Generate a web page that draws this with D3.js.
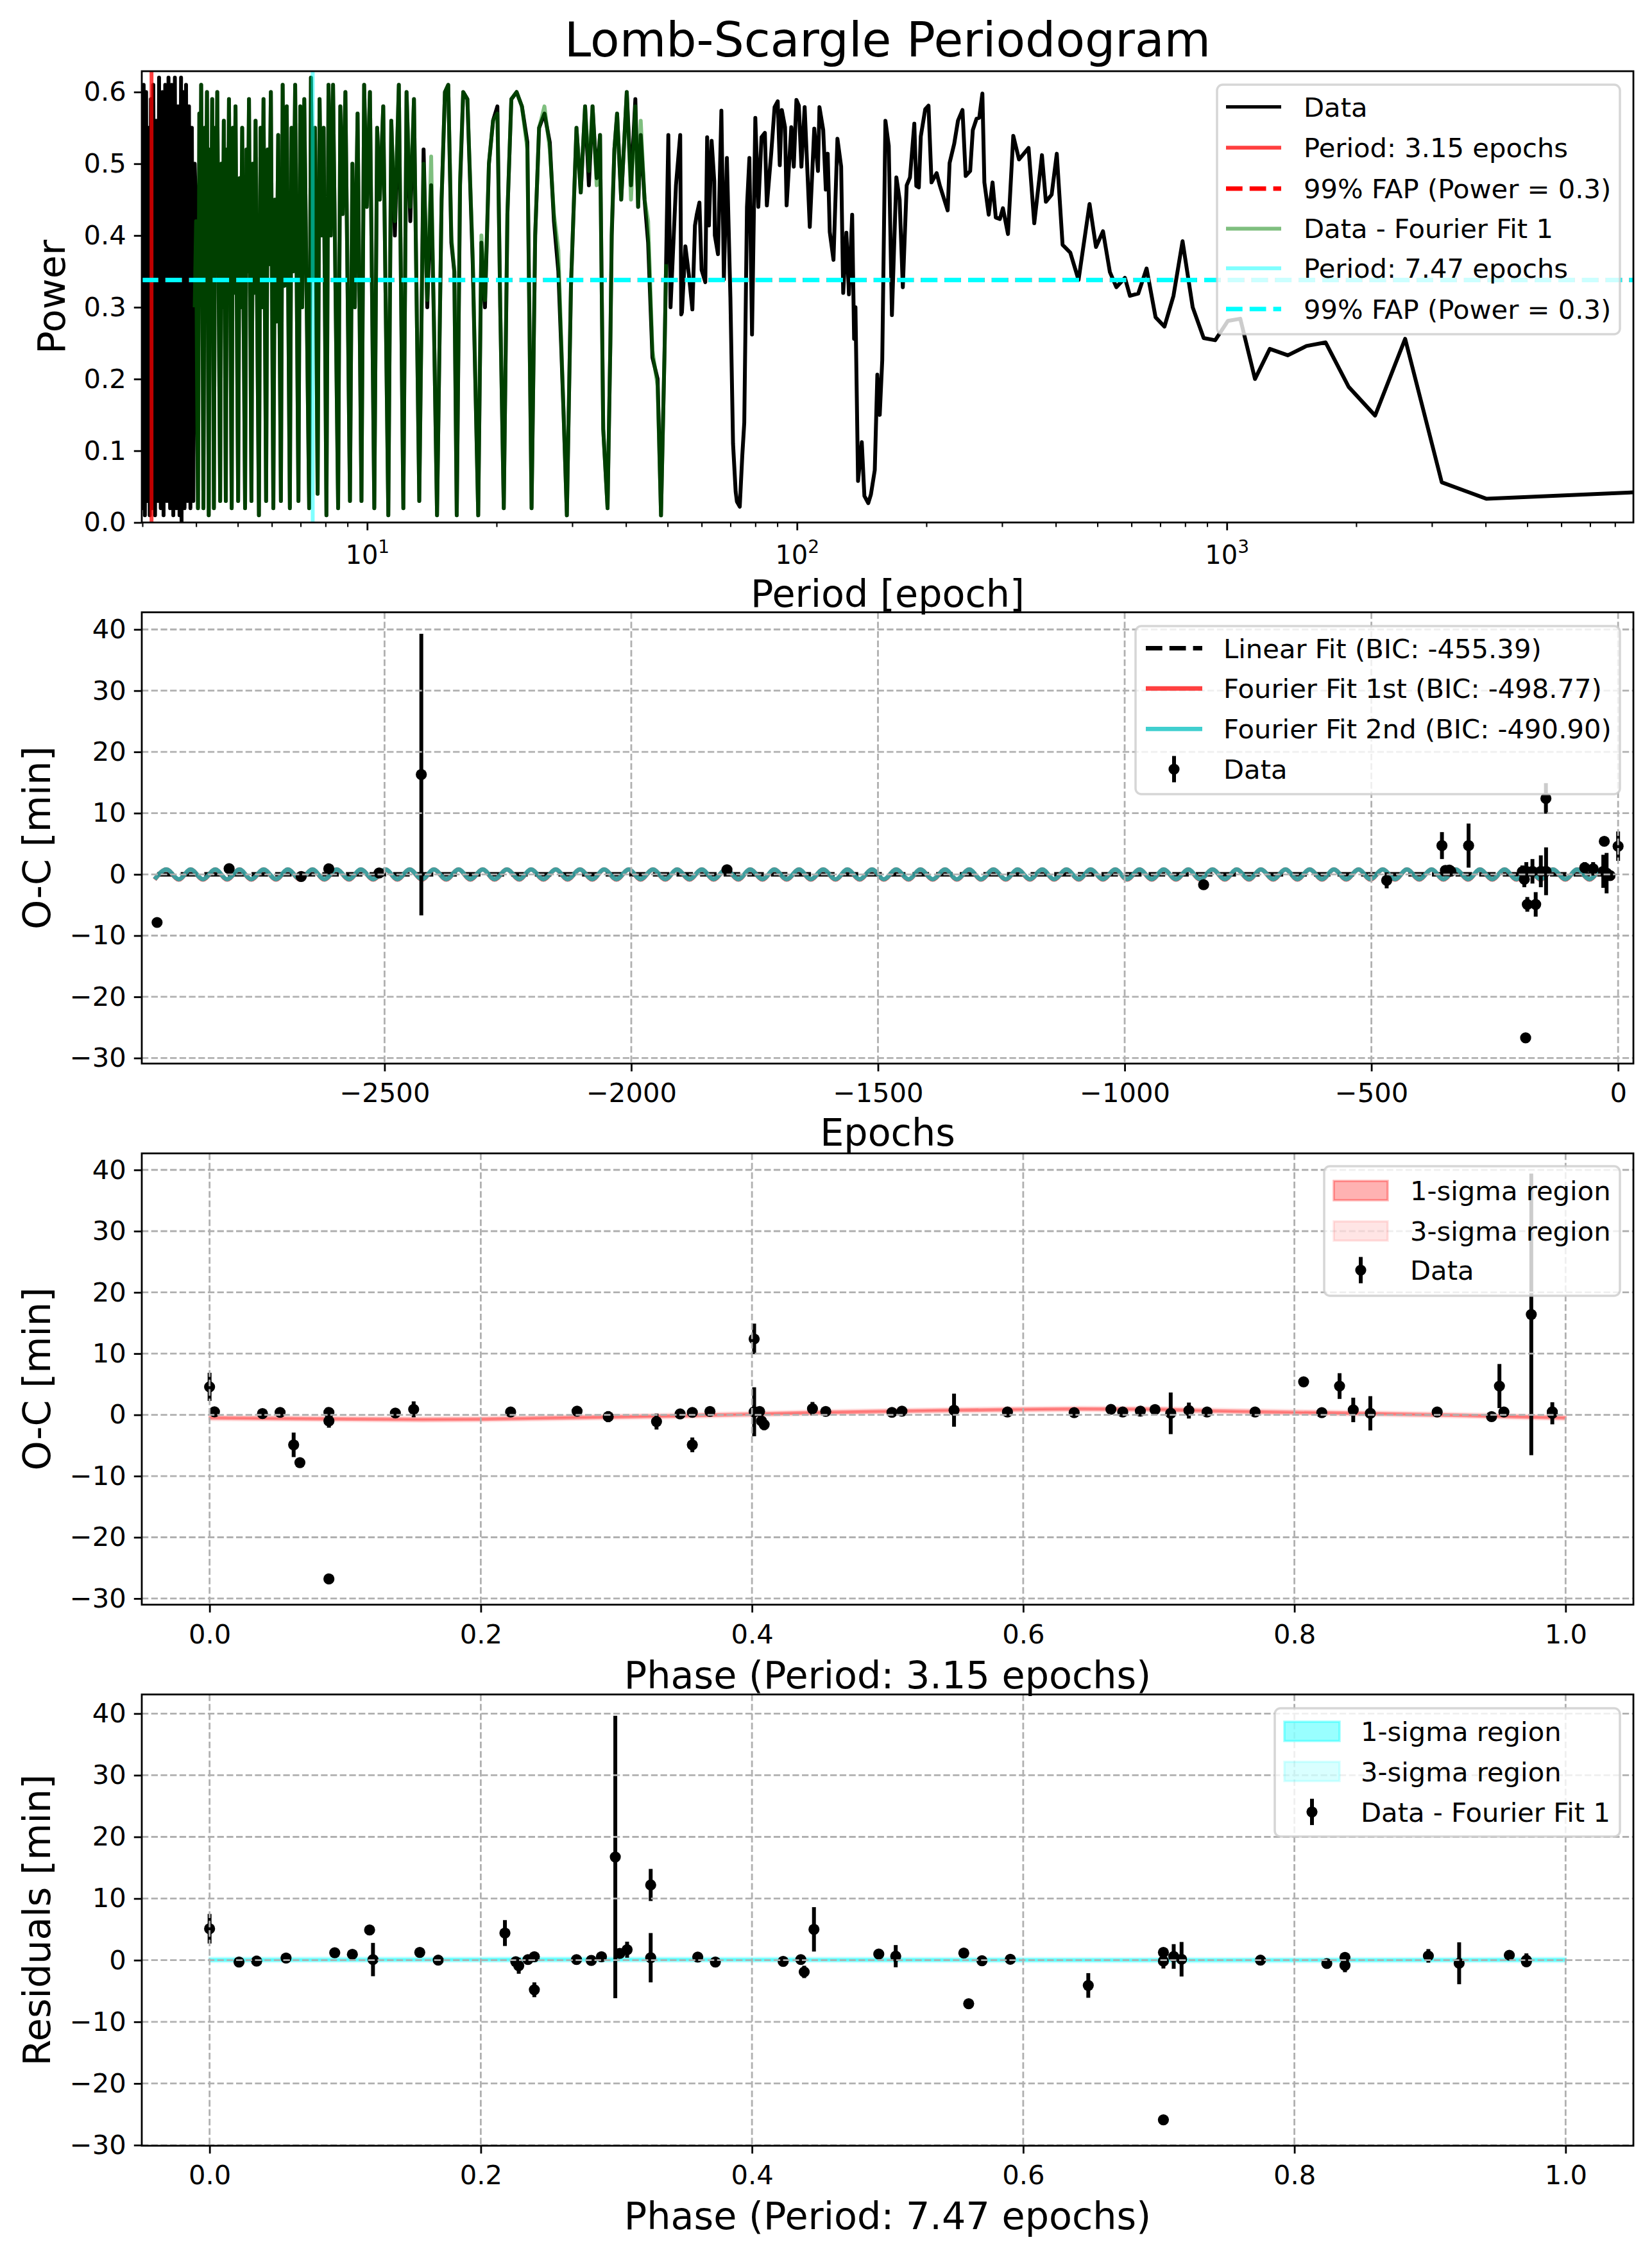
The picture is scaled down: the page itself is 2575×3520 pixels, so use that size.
<!DOCTYPE html>
<html>
<head>
<meta charset="utf-8">
<script src="https://cdn.jsdelivr.net/npm/d3@7/dist/d3.min.js"></script>
<style>
  body { margin: 0; background: #fff; }
  text { font-family: "DejaVu Sans", sans-serif; fill: #000; }
</style>
</head>
<body>
<div id="chart"></div>
<script>
// O-C Timing Analysis - D3

// Periodogram of the O-C Data: [period, power]
var lsData = [
  [2.99,0.60],[3.00,0.57],[3.01,0.02],[3.02,0.61],[3.04,0.01],[3.06,0.60],[3.08,0.03],[3.10,0.55],[3.12,0.01],[3.14,0.59],
  [3.16,0.02],[3.18,0.61],[3.21,0.01],[3.23,0.56],[3.26,0.03],[3.28,0.62],[3.31,0.02],[3.34,0.60],[3.36,0.01],[3.39,0.61],
  [3.42,0.03],[3.45,0.62],[3.48,0.02],[3.51,0.61],[3.54,0.01],[3.57,0.62],[3.60,0.02],[3.63,0.58],[3.66,0.01],[3.69,0.62],
  [3.70,0.00],[3.73,0.60],[3.76,0.02],[3.79,0.61],[3.82,0.03],[3.85,0.58],[3.88,0.02],[3.91,0.55],[3.94,0.03],[3.97,0.50],
  [4.00,0.42],[4.02,0.20],[4.04,0.02],[4.07,0.57],[4.09,0.35],[4.11,0.61],[4.14,0.30],[4.16,0.02],[4.19,0.55],[4.21,0.38],
  [4.24,0.60],[4.28,0.01],[4.31,0.52],[4.33,0.33],[4.36,0.59],[4.40,0.02],[4.43,0.55],[4.45,0.36],[4.48,0.60],[4.55,0.03],
  [4.58,0.50],[4.61,0.30],[4.64,0.56],[4.69,0.03],[4.72,0.52],[4.74,0.33],[4.77,0.59],[4.84,0.02],[4.87,0.55],[4.90,0.32],
  [4.94,0.58],[5.01,0.03],[5.05,0.48],[5.08,0.30],[5.12,0.55],[5.20,0.02],[5.24,0.52],[5.27,0.35],[5.31,0.59],[5.38,0.03],
  [5.42,0.50],[5.46,0.32],[5.50,0.56],[5.60,0.01],[5.65,0.55],[5.69,0.30],[5.74,0.59],[5.82,0.03],[5.87,0.52],[5.91,0.36],
  [5.97,0.60],[6.05,0.02],[6.10,0.45],[6.15,0.28],[6.21,0.54],[6.30,0.03],[6.36,0.61],[6.42,0.33],[6.50,0.58],[6.61,0.02],
  [6.67,0.55],[6.73,0.35],[6.80,0.61],[6.92,0.03],[6.99,0.58],[7.06,0.30],[7.14,0.59],[7.33,0.02],[7.40,0.62],[7.48,0.34],
  [7.56,0.55],[7.67,0.04],[7.75,0.59],[7.83,0.40],[7.92,0.55],[8.04,0.01],[8.13,0.61],[8.23,0.40],[8.33,0.61],[8.56,0.02],
  [8.66,0.58],[8.77,0.43],[8.90,0.60],[9.12,0.03],[9.24,0.50],[9.36,0.30],[9.50,0.57],[9.70,0.03],[9.84,0.61],[9.98,0.44],
  [10.15,0.60],[10.39,0.02],[10.55,0.55],[10.70,0.45],[10.90,0.58],[11.20,0.01],[11.38,0.56],[11.60,0.40],[11.85,0.61],[12.14,0.02],
  [12.35,0.60],[12.60,0.42],[12.85,0.59],[13.22,0.03],[13.53,0.52],[13.80,0.30],[14.09,0.47],[14.30,0.28],[14.54,0.01],[14.90,0.45],
  [15.17,0.60],[15.44,0.61],[15.70,0.39],[15.95,0.35],[16.16,0.01],[16.45,0.47],[16.73,0.60],[17.11,0.59],[17.61,0.36],[18.13,0.01],
  [18.44,0.39],[18.80,0.30],[19.20,0.50],[19.63,0.56],[20.09,0.58],[20.40,0.30],[20.79,0.02],[21.20,0.43],[21.65,0.59],[22.27,0.60],
  [22.91,0.58],[23.59,0.53],[24.13,0.02],[24.60,0.40],[25.12,0.55],[25.85,0.57],[26.60,0.53],[27.20,0.42],[27.85,0.35],[28.30,0.24],
  [28.65,0.15],[29.15,0.01],[29.80,0.33],[30.69,0.55],[31.40,0.46],[32.14,0.58],[32.80,0.47],[33.45,0.58],[34.20,0.48],[34.82,0.54],
  [35.42,0.13],[36.25,0.02],[36.80,0.25],[37.07,0.40],[37.60,0.52],[38.15,0.57],[39.00,0.45],[40.18,0.60],[41.10,0.47],[42.07,0.59],
  [42.70,0.44],[43.30,0.54],[44.20,0.45],[45.05,0.39],[46.10,0.23],[47.40,0.20],[48.27,0.01],[49.20,0.24],[50.20,0.54],[50.80,0.30],
  [52.30,0.47],[53.50,0.54],[53.80,0.29],[54.0,0.293],[54.5,0.339],[55.0,0.385],[56.0,0.347],[57.1,0.297],[57.9,0.414],[58.5,0.43],
  [59.3,0.446],[60.0,0.352],[61.2,0.335],[61.8,0.537],[62.4,0.414],[63.3,0.532],[64.2,0.476],[64.4,0.40],[65.5,0.374],[66.7,0.574],
  [67.6,0.339],[68.7,0.508],[70.0,0.314],[71.0,0.11],[72.0,0.043],[72.5,0.029],[73.6,0.022],[74.6,0.093],[75.4,0.139],[76.5,0.44],
  [77.5,0.508],[78.6,0.262],[80.0,0.564],[81.3,0.44],[82.7,0.537],[84.2,0.543],[85.1,0.442],[87.1,0.514],[88.7,0.579],[90.2,0.587],
  [91.2,0.498],[92.2,0.575],[93.8,0.551],[94.6,0.442],[97.0,0.551],[98.3,0.496],[99.7,0.589],[101.0,0.581],[102.4,0.496],[104.2,0.579],
  [107.1,0.412],[109.7,0.549],[111.9,0.49],[112.8,0.579],[115.1,0.547],[116.7,0.464],[117.9,0.514],[119.2,0.405],[121.6,0.366],[124.2,0.535],
  [126.7,0.496],[128.1,0.32],[130.3,0.404],[132.1,0.318],[134.4,0.429],[135.8,0.256],[136.8,0.30],[138.7,0.058],[141.5,0.112],[143.5,0.037],
  [146.5,0.027],[148.6,0.039],[151.7,0.073],[153.8,0.206],[155.8,0.15],[157.9,0.226],[160.6,0.56],[163.5,0.525],[166.3,0.289],[170.3,0.481],
  [173.3,0.45],[176.3,0.328],[180.0,0.47],[183.2,0.481],[187.5,0.556],[189.5,0.469],[192.1,0.467],[194.1,0.538],[198.8,0.576],[202.3,0.581],
  [205.6,0.474],[211.3,0.487],[215.1,0.469],[224.2,0.435],[226.5,0.501],[232.2,0.528],[236.9,0.56],[242.7,0.575],[246.9,0.483],[252.9,0.49],
  [256.5,0.547],[261.8,0.563],[265.5,0.564],[270.0,0.598],[272.9,0.474],[279.3,0.429],[285.1,0.474],[290.1,0.425],[296.5,0.423],[301.4,0.438],
  [309.7,0.402],[318.6,0.539],[328.5,0.506],[345.8,0.522],[356.5,0.417],[371.5,0.512],[379.4,0.447],[391.3,0.457],[402.2,0.514],[414.9,0.387],
  [432.4,0.376],[451.9,0.338],[479.4,0.444],[496.2,0.384],[515.2,0.406],[534.6,0.349],[553.4,0.328],[579.4,0.341],[595.2,0.316],[622.2,0.319],
  [650.7,0.354],[682.8,0.286],[716.1,0.273],[751.6,0.316],[789.0,0.392],[833.0,0.300],[883.5,0.257],[939.7,0.254],[1006,0.281],[1075,0.284],
  [1163,0.200],[1259,0.242],[1387,0.233],[1532,0.246],[1698,0.251],[1921,0.189],[2213,0.149],[2600,0.256],[3163,0.056],[4022,0.033],
  [8831,0.042]
];

// Periodogram of Data - Fourier Fit 1: [period, power]
var lsResidual = [
  [3.97,0.30],[4.00,0.42],[4.02,0.20],[4.04,0.02],[4.07,0.57],[4.09,0.35],[4.11,0.61],[4.14,0.30],[4.16,0.02],[4.19,0.55],[4.21,0.38],
  [4.24,0.60],[4.28,0.01],[4.31,0.52],[4.33,0.33],[4.36,0.59],[4.40,0.02],[4.43,0.55],[4.45,0.36],[4.48,0.60],[4.55,0.03],
  [4.58,0.50],[4.61,0.30],[4.64,0.56],[4.69,0.03],[4.72,0.52],[4.74,0.33],[4.77,0.59],[4.84,0.02],[4.87,0.55],[4.90,0.32],
  [4.94,0.58],[5.01,0.03],[5.05,0.48],[5.08,0.30],[5.12,0.55],[5.20,0.02],[5.24,0.52],[5.27,0.35],[5.31,0.59],[5.38,0.03],
  [5.42,0.50],[5.46,0.32],[5.50,0.56],[5.60,0.01],[5.65,0.55],[5.69,0.30],[5.74,0.59],[5.82,0.03],[5.87,0.52],[5.91,0.36],
  [5.97,0.60],[6.05,0.02],[6.10,0.45],[6.15,0.28],[6.21,0.54],[6.30,0.03],[6.36,0.61],[6.42,0.33],[6.50,0.58],[6.61,0.02],
  [6.67,0.55],[6.73,0.35],[6.80,0.61],[6.92,0.03],[6.99,0.58],[7.06,0.30],[7.14,0.59],[7.33,0.02],[7.40,0.62],[7.48,0.34],
  [7.56,0.55],[7.67,0.04],[7.75,0.59],[7.83,0.40],[7.92,0.55],[8.04,0.01],[8.13,0.61],[8.23,0.40],[8.33,0.61],[8.56,0.02],
  [8.66,0.58],[8.77,0.43],[8.90,0.60],[9.12,0.03],[9.24,0.50],[9.36,0.30],[9.50,0.57],[9.70,0.03],[9.84,0.61],[9.98,0.44],
  [10.15,0.60],[10.39,0.02],[10.55,0.55],[10.70,0.45],[10.90,0.58],[11.20,0.01],[11.38,0.56],[11.60,0.42],[11.85,0.61],[12.14,0.02],
  [12.35,0.60],[12.60,0.44],[12.85,0.59],[13.22,0.03],[13.53,0.50],[13.80,0.31],[14.09,0.51],[14.30,0.28],[14.54,0.01],[14.90,0.45],
  [15.17,0.60],[15.44,0.61],[15.70,0.40],[15.95,0.35],[16.16,0.01],[16.45,0.48],[16.73,0.60],[17.11,0.59],[17.61,0.37],[18.13,0.01],
  [18.44,0.40],[18.80,0.31],[19.20,0.50],[19.63,0.56],[20.09,0.57],[20.40,0.30],[20.79,0.02],[21.20,0.43],[21.65,0.59],[22.27,0.60],
  [22.91,0.58],[23.59,0.52],[24.13,0.02],[24.60,0.40],[25.12,0.55],[25.85,0.58],[26.60,0.52],[27.20,0.43],[27.85,0.38],[28.30,0.25],
  [28.65,0.15],[29.15,0.01],[29.80,0.33],[30.69,0.55],[31.40,0.46],[32.14,0.58],[32.80,0.49],[33.45,0.58],[34.20,0.47],[34.82,0.54],
  [35.42,0.13],[36.25,0.02],[36.80,0.25],[37.07,0.41],[37.60,0.52],[38.15,0.57],[39.00,0.45],[40.18,0.60],[41.10,0.45],[42.07,0.58],
  [42.70,0.44],[43.30,0.56],[44.20,0.45],[45.05,0.42],[46.10,0.24],[47.40,0.19],[48.27,0.01],[49.20,0.24],[49.60,0.36]
];

// Best Periods & False Alarm Levels
var bestPeriod1 = 3.15;
var bestPeriod2 = 7.47;
var fapPower1 = 0.338;
var fapPower2 = 0.338;

// O-C Data vs Epoch: [epoch, O-C (min), error (min)]
var ocData = [
  [-2961,-7.85,0.3],[-2815,0.93,0.3],[-2669,-0.35,0.3],[-2613,0.9,0.3],[-2511,0.23,0.3],[-2425.5,16.3,23.0],
  [-1806,0.75,0.3],[-840,-1.69,0.8],[-469,-0.98,1.3],[-357,4.7,2.2],[-350,0.64,0.3],[-346,0.6,0.3],
  [-342,0.7,0.3],[-339,0.5,0.3],[-303,4.7,3.6],[-194,0.45,1.0],[-190,-0.8,1.3],[-187.4,-26.7,0.3],
  [-186,0.5,1.5],[-184,-4.9,1.2],[-173.6,0.5,2.0],[-167,-4.9,2.0],[-156.6,0.5,2.6],[-146.3,12.4,2.5],
  [-146,0.5,3.9],[-67.7,1.1,0.9],[-50.6,0.9,1.1],[-30,0.5,2.7],[-28,5.4,0.4],[-23.3,0.2,3.3],
  [-16.4,-0.2,0.5],[0,4.6,2.4]
];

// Linear Fit (flat after ephemeris correction)
var linearFitOC = 0;

// Fourier Fits vs Epoch: epochs of the wave crests and troughs, and their O-C values
var fitPeakEpochs = [-2942,-2893,-2843,-2794,-2745,-2696,-2646,-2597,-2548,-2498,-2449,-2400,-2350,-2301,-2252,
  -2203,-2153,-2104,-2055,-2005,-1956,-1907,-1857,-1808,-1759,-1710,-1660,-1611,-1562,-1512,-1463,-1414,-1364,
  -1315,-1266,-1217,-1167,-1118,-1069,-1019,-970,-921,-871,-822,-773,-724,-674,-625,-576,-526,-477,-428,-378,
  -329,-280,-230,-181,-132,-83,-33];
var fitTroughEpochs = [-2966,-2917,-2868,-2819,-2770,-2720,-2671,-2622,-2572,-2523,-2474,-2424,-2375,-2326,-2277,
  -2227,-2178,-2129,-2079,-2030,-1981,-1931,-1882,-1833,-1783,-1734,-1685,-1636,-1586,-1537,-1488,-1438,-1389,
  -1340,-1291,-1241,-1192,-1143,-1093,-1044,-995,-945,-896,-847,-797,-748,-699,-650,-600,-551,-502,-452,-403,
  -354,-304,-255,-206,-157,-107,-58,-9];
var fit1Crest = 0.8, fit1Trough = -0.85;
var fit2Crest = 0.8, fit2Trough = -0.8;

// Phase-Folded O-C (Period 3.15): [phase, O-C, error]
var phaseData1 = [
  [0.000,4.57,2.3],[0.0036,0.5,0.3],[0.039,0.2,0.3],[0.052,0.4,0.3],[0.062,-4.9,2.0],[0.0666,-7.8,0.3],
  [0.088,0.4,0.3],[0.088,-1.0,1.1],[0.088,-26.8,0.3],[0.137,0.3,0.3],[0.1505,0.9,1.3],[0.222,0.46,0.3],
  [0.271,0.6,0.3],[0.294,-0.3,0.9],[0.3296,-1.1,1.3],[0.347,0.15,0.3],[0.356,0.4,0.3],[0.356,-4.9,1.2],
  [0.369,0.56,0.3],[0.4016,12.4,2.5],[0.4016,0.5,4.0],[0.4056,0.56,0.5],[0.407,-1.0,0.5],[0.409,-1.6,0.9],
  [0.4446,1.0,1.1],[0.4544,0.56,0.3],[0.5032,0.4,0.3],[0.5106,0.6,0.3],[0.549,0.76,2.7],[0.5884,0.46,0.3],
  [0.6376,0.36,0.3],[0.6647,0.9,0.3],[0.6734,0.46,0.3],[0.6864,0.6,0.3],[0.6972,0.86,0.3],[0.7088,0.25,3.4],
  [0.7222,0.7,1.3],[0.7356,0.46,0.3],[0.771,0.46,0.3],[0.8068,5.4,0.3],[0.8202,0.36,0.3],[0.8333,4.7,2.1],
  [0.8434,0.8,2.0],[0.856,0.25,2.8],[0.9053,0.46,0.3],[0.9454,-0.3,0.3],[0.9512,4.7,3.6],[0.9545,0.46,0.3],
  [0.9747,16.4,23.0],[0.9902,0.25,1.8],[0.9902,0.5,0.5]
];

// Fourier Fit 1 Folded: phase, O-C and its 1-sigma width
var fit1Phase = [0, 0.085, 0.157, 0.2, 0.266, 0.338, 0.4, 0.446, 0.504, 0.55, 0.6, 0.64, 0.70, 0.735, 0.8, 0.857, 0.905, 0.945, 1.0];
var fit1Folded = [-0.5, -0.66, -0.76, -0.71, -0.46, -0.2, 0.1, 0.35, 0.6, 0.75, 0.88, 0.96, 0.9, 0.66, 0.4, 0.2, 0.0, -0.2, -0.5];
var fit1Sigma = 0.12;

// Phase-Folded Residuals (Period 7.47): [phase, residual, error]
var phaseData2 = [
  [0.000,5.1,2.4],[0.0217,-0.3,0.3],[0.0347,-0.15,0.3],[0.0564,0.35,0.3],[0.0923,1.2,0.3],[0.1053,0.96,0.3],
  [0.118,4.9,0.7],[0.1205,0.1,2.7],[0.155,1.26,0.3],[0.1686,0.0,0.3],[0.2178,4.4,2.1],[0.2258,-0.25,0.3],
  [0.228,-0.9,1.3],[0.2348,0.1,0.3],[0.2395,0.55,0.3],[0.2395,-4.8,1.2],[0.2706,0.1,0.3],[0.2815,-0.05,0.3],
  [0.289,0.55,0.3],[0.2992,16.74,22.9],[0.3025,1.1,0.3],[0.3079,1.7,1.3],[0.3253,12.2,2.6],[0.3253,0.4,4.0],
  [0.36,0.5,0.3],[0.373,-0.3,0.3],[0.423,-0.2,0.3],[0.436,0.1,0.3],[0.4385,-1.9,1.0],[0.4457,5.0,3.6],
  [0.4935,1.0,0.3],[0.506,0.65,1.8],[0.5562,1.16,0.3],[0.5598,-7.06,0.3],[0.5696,-0.1,0.3],[0.5905,0.15,0.6],
  [0.648,-4.1,2.0],[0.7034,1.26,0.3],[0.7034,-0.15,1.2],[0.7034,-25.9,0.3],[0.711,0.6,2.0],[0.7168,0.15,2.8],
  [0.775,0.0,0.3],[0.8239,-0.55,0.3],[0.8373,0.45,0.3],[0.8373,-0.85,1.1],[0.8988,0.7,1.1],[0.9215,-0.5,3.4],
  [0.9585,0.8,0.3],[0.9711,0.0,1.1],[0.9711,-0.25,0.3]
];

// Fourier Fit 2 Folded on the Residuals
var fit2Phase = [0, 0.25, 0.5, 0.75, 1.0];
var fit2Folded = [0.05, 0.1, 0.05, 0.0, 0.05];
var fit2Sigma = 0.12;

// Tick Values
var powerTicks = [0, 0.1, 0.2, 0.3, 0.4, 0.5, 0.6];
var periodMajorTicks = [10, 100, 1000];
var periodMinorTicks = [3,4,5,6,7,8,9,20,30,40,50,60,70,80,90,200,300,400,500,600,700,800,900,2000,3000,4000,5000,6000,7000,8000];
var epochTicks = [-2500, -2000, -1500, -1000, -500, 0];
var ocTicks = [-30, -20, -10, 0, 10, 20, 30, 40];
var phaseTicks = [0, 0.2, 0.4, 0.6, 0.8, 1.0];

// Setup Figure Dimensions
var svgWidth = 2575;
var svgHeight = 3520;
var axLeft = 221;
var axRight = 2546;
var axHeight = 703.5;
var axTops = [111, 954.5, 1798, 2641.5];

var tickFont = 41.7;
var labelFont = 58.8;
var titleFont = 74.5;
var legendFont = 41.7;

// Create the SVG Wrapper
var svg = d3.select("#chart")
  .append("svg")
  .attr("width", svgWidth)
  .attr("height", svgHeight);

svg.append("rect")
  .attr("width", svgWidth)
  .attr("height", svgHeight)
  .attr("fill", "#fff");

var defs = svg.append("defs");

// Build One Axes Box With a Clip Region
function makePanel(i) {
  var top = axTops[i];
  defs.append("clipPath")
    .attr("id", "clip" + i)
    .append("rect")
    .attr("x", axLeft)
    .attr("y", top)
    .attr("width", axRight - axLeft)
    .attr("height", axHeight);
  var g = svg.append("g");
  return {
    g: g,
    top: top,
    bottom: top + axHeight,
    plot: g.append("g").attr("clip-path", "url(#clip" + i + ")")
  };
}

// Style a D3 Axis Like the Reference
function styleAxis(sel) {
  sel.attr("font-family", "DejaVu Sans").attr("font-size", tickFont);
  sel.select(".domain").remove();
  sel.selectAll(".tick line").attr("stroke", "#000").attr("stroke-width", 2.8);
  sel.selectAll(".tick text").attr("fill", "#000");
}

// Dashed Grid Lines
function drawGrid(p, x, y, xTicks, yTicks) {
  var grid = p.g.append("g");
  grid.selectAll(".gx").data(xTicks).enter().append("line")
    .attr("x1", d => x(d)).attr("x2", d => x(d))
    .attr("y1", p.top).attr("y2", p.bottom);
  grid.selectAll(".gy").data(yTicks).enter().append("line")
    .attr("x1", axLeft).attr("x2", axRight)
    .attr("y1", d => y(d)).attr("y2", d => y(d));
  grid.selectAll("line")
    .attr("stroke", "#b0b0b0")
    .attr("stroke-width", 2.8)
    .attr("stroke-dasharray", "10.3,4.4");
}

// Left & Bottom Axes
function drawAxes(p, x, y, xTicks, yTicks, xFmt, yFmt) {
  p.g.append("g")
    .attr("transform", `translate(${axLeft}, 0)`)
    .call(d3.axisLeft(y).tickValues(yTicks).tickFormat(yFmt).tickSize(12.2).tickPadding(12.1))
    .call(styleAxis);
  if (xTicks) {
    p.g.append("g")
      .attr("transform", `translate(0, ${p.bottom})`)
      .call(d3.axisBottom(x).tickValues(xTicks).tickFormat(xFmt).tickSize(12.2).tickPadding(18.2))
      .call(styleAxis);
  }
}

// Axes Frame
function drawSpines(p) {
  p.g.append("rect")
    .attr("x", axLeft).attr("y", p.top)
    .attr("width", axRight - axLeft).attr("height", axHeight)
    .attr("fill", "none").attr("stroke", "#000").attr("stroke-width", 2.8);
}

// Axis Labels
function drawLabels(p, xText, yText, xBase, yBase) {
  p.g.append("text")
    .attr("x", (axLeft + axRight) / 2)
    .attr("y", p.bottom + xBase)
    .attr("text-anchor", "middle")
    .attr("font-size", labelFont)
    .text(xText);
  p.g.append("text")
    .attr("transform", `translate(${yBase}, ${(p.top + p.bottom) / 2}) rotate(-90)`)
    .attr("text-anchor", "middle")
    .attr("font-size", labelFont)
    .text(yText);
}

// Error Bars With Round Markers
function drawErrorbars(p, x, y, data) {
  var eb = p.plot.append("g");
  eb.selectAll("line").data(data).enter().append("line")
    .attr("x1", d => x(d[0])).attr("x2", d => x(d[0]))
    .attr("y1", d => y(d[1] - d[2])).attr("y2", d => y(d[1] + d[2]))
    .attr("stroke", "#000").attr("stroke-width", 6);
  eb.selectAll("circle").data(data).enter().append("circle")
    .attr("cx", d => x(d[0])).attr("cy", d => y(d[1]))
    .attr("r", 8.6).attr("fill", "#000");
}

// Legend Box
function drawLegend(p, box, rows, hx0, hx1, textX, items) {
  var lg = p.g.append("g");
  lg.append("rect")
    .attr("x", box.x).attr("y", box.y).attr("width", box.w).attr("height", box.h)
    .attr("rx", 9)
    .attr("fill", "#fff").attr("fill-opacity", 0.8)
    .attr("stroke", "#cccccc").attr("stroke-opacity", 0.8).attr("stroke-width", 3.5);
  items.forEach(function(item, i) {
    var cy = rows[i];
    var hc = (hx0 + hx1) / 2;
    if (item.type === "line") {
      lg.append("line")
        .attr("x1", hx0).attr("x2", hx1).attr("y1", cy).attr("y2", cy)
        .attr("stroke", item.color).attr("stroke-opacity", item.opacity || 1)
        .attr("stroke-width", item.width)
        .attr("stroke-dasharray", item.dash || null);
    } else if (item.type === "patch") {
      lg.append("rect")
        .attr("x", hx0).attr("y", cy - 15).attr("width", hx1 - hx0).attr("height", 30)
        .attr("fill", item.color).attr("fill-opacity", item.opacity)
        .attr("stroke", item.color).attr("stroke-opacity", item.opacity).attr("stroke-width", 3.5);
    } else {
      lg.append("line")
        .attr("x1", hc).attr("x2", hc).attr("y1", cy - 20.5).attr("y2", cy + 20.5)
        .attr("stroke", "#000").attr("stroke-width", 6);
      lg.append("circle").attr("cx", hc).attr("cy", cy).attr("r", 8.6).attr("fill", "#000");
    }
    lg.append("text")
      .attr("x", textX).attr("y", cy + 15)
      .attr("font-size", legendFont)
      .text(item.label);
  });
}

// ---------------- Panel 1: Lomb-Scargle Periodogram ----------------
var p1 = makePanel(0);
var xPeriod = d3.scaleLog().domain([2.99, 8830]).range([axLeft, axRight]);
var yPower = d3.scaleLinear().domain([0, 0.629]).range([p1.bottom, p1.top]);

var powerLine = d3.line().x(d => xPeriod(d[0])).y(d => yPower(d[1]));

p1.plot.append("path").datum(lsData)
  .attr("d", powerLine).attr("fill", "none")
  .attr("stroke", "#000").attr("stroke-width", 6).attr("stroke-linejoin", "round");

p1.plot.append("line")
  .attr("x1", xPeriod(bestPeriod1)).attr("x2", xPeriod(bestPeriod1))
  .attr("y1", p1.top).attr("y2", p1.bottom)
  .attr("stroke", "red").attr("stroke-opacity", 0.75).attr("stroke-width", 6);

p1.plot.append("line")
  .attr("x1", axLeft).attr("x2", axRight)
  .attr("y1", yPower(fapPower1)).attr("y2", yPower(fapPower1))
  .attr("stroke", "red").attr("stroke-width", 6.9).attr("stroke-dasharray", "25.7,11.1");

p1.plot.append("path").datum(lsResidual)
  .attr("d", powerLine).attr("fill", "none")
  .attr("stroke", "green").attr("stroke-opacity", 0.5).attr("stroke-width", 6).attr("stroke-linejoin", "round");

p1.plot.append("line")
  .attr("x1", xPeriod(bestPeriod2)).attr("x2", xPeriod(bestPeriod2))
  .attr("y1", p1.top).attr("y2", p1.bottom)
  .attr("stroke", "cyan").attr("stroke-opacity", 0.5).attr("stroke-width", 6);

p1.plot.append("line")
  .attr("x1", axLeft).attr("x2", axRight)
  .attr("y1", yPower(fapPower2)).attr("y2", yPower(fapPower2))
  .attr("stroke", "cyan").attr("stroke-width", 6.9).attr("stroke-dasharray", "25.7,11.1");

drawAxes(p1, xPeriod, yPower, null, powerTicks, null, d3.format(".1f"));

// Log Axis: Minor Ticks
p1.g.append("g")
  .attr("transform", `translate(0, ${p1.bottom})`)
  .call(d3.axisBottom(xPeriod).tickValues(periodMinorTicks).tickFormat("").tickSize(7))
  .call(styleAxis)
  .selectAll(".tick line").attr("stroke-width", 2.1);

// Log Axis: Major Ticks With 10^n Labels
var majorAxis = p1.g.append("g")
  .attr("transform", `translate(0, ${p1.bottom})`)
  .call(d3.axisBottom(xPeriod).tickValues(periodMajorTicks).tickFormat("").tickSize(12.2))
  .call(styleAxis);
majorAxis.selectAll(".tick text").remove();
var majorLabels = majorAxis.selectAll(".tick").append("text")
  .attr("y", 64)
  .attr("text-anchor", "middle")
  .attr("font-size", 40);
majorLabels.append("tspan").text("10");
majorLabels.append("tspan")
  .attr("dy", -17)
  .attr("font-size", 28)
  .text(d => Math.round(Math.log10(d)));

drawSpines(p1);
drawLabels(p1, "Period [epoch]", "Power", 131, 101);

svg.append("text")
  .attr("x", (axLeft + axRight) / 2)
  .attr("y", 88)
  .attr("text-anchor", "middle")
  .attr("font-size", titleFont)
  .text("Lomb-Scargle Periodogram");

drawLegend(p1, {x: 1897, y: 132, w: 628, h: 389},
  [166.7, 230.3, 294, 356.4, 418.2, 481.8], 1911, 1997, 2032, [
    {type: "line", color: "#000", width: 5.2, label: "Data"},
    {type: "line", color: "red", opacity: 0.75, width: 6, label: "Period: 3.15 epochs"},
    {type: "line", color: "red", width: 6.9, dash: "25.7,11.1", label: "99% FAP (Power = 0.3)"},
    {type: "line", color: "green", opacity: 0.5, width: 6, label: "Data - Fourier Fit 1"},
    {type: "line", color: "cyan", opacity: 0.5, width: 6, label: "Period: 7.47 epochs"},
    {type: "line", color: "cyan", width: 6.9, dash: "25.7,11.1", label: "99% FAP (Power = 0.3)"}
  ]);

// ---------------- Panel 2: O-C vs Epochs ----------------
var p2 = makePanel(1);
var xEpoch = d3.scaleLinear().domain([-2992, 31]).range([axLeft, axRight]);
var yOC2 = d3.scaleLinear().domain([-30.9, 42.8]).range([p2.bottom, p2.top]);

drawGrid(p2, xEpoch, yOC2, epochTicks, ocTicks);

p2.plot.append("line")
  .attr("x1", xEpoch(ocData[0][0])).attr("x2", xEpoch(0))
  .attr("y1", yOC2(linearFitOC)).attr("y2", yOC2(linearFitOC))
  .attr("stroke", "#000").attr("stroke-width", 6.9).attr("stroke-dasharray", "25.7,11.1");

// Combine Crests & Troughs Into One Wave Per Fit
function buildWave(crest, trough) {
  var pts = fitPeakEpochs.map(e => [e, crest]).concat(fitTroughEpochs.map(e => [e, trough]));
  return pts.sort((a, b) => a[0] - b[0]);
}
var waveLine = d3.line()
  .x(d => xEpoch(d[0])).y(d => yOC2(d[1]))
  .curve(d3.curveMonotoneX);

p2.plot.append("path").datum(buildWave(fit1Crest, fit1Trough))
  .attr("d", waveLine).attr("fill", "none")
  .attr("stroke", "red").attr("stroke-opacity", 0.75).attr("stroke-width", 6.9);
p2.plot.append("path").datum(buildWave(fit2Crest, fit2Trough))
  .attr("d", waveLine).attr("fill", "none")
  .attr("stroke", "#00bfbf").attr("stroke-opacity", 0.75).attr("stroke-width", 6.9);

drawErrorbars(p2, xEpoch, yOC2, ocData);
drawAxes(p2, xEpoch, yOC2, epochTicks, ocTicks, d3.format("d"), d3.format("d"));
drawSpines(p2);
drawLabels(p2, "Epochs", "O-C [min]", 128, 78);

drawLegend(p2, {x: 1770, y: 976, w: 755, h: 262},
  [1010.5, 1073.2, 1136.4, 1199], 1786, 1874, 1907, [
    {type: "line", color: "#000", width: 6.9, dash: "25.7,11.1", label: "Linear Fit (BIC: -455.39)"},
    {type: "line", color: "red", opacity: 0.75, width: 6.9, label: "Fourier Fit 1st (BIC: -498.77)"},
    {type: "line", color: "#00bfbf", opacity: 0.75, width: 6.9, label: "Fourier Fit 2nd (BIC: -490.90)"},
    {type: "errorbar", label: "Data"}
  ]);

// Shaded Sigma Bands for a Folded Fit
function drawBands(p, x, y, phase, values, sigma, color, a1, a3) {
  var pts = phase.map((d, i) => [d, values[i]]);
  [[3, a3], [1, a1]].forEach(function(b) {
    var area = d3.area()
      .x(d => x(d[0]))
      .y0(d => y(d[1] - b[0] * sigma))
      .y1(d => y(d[1] + b[0] * sigma));
    p.plot.append("path").datum(pts)
      .attr("d", area)
      .attr("fill", color).attr("fill-opacity", b[1])
      .attr("stroke", color).attr("stroke-opacity", b[1]).attr("stroke-width", 3.5);
  });
}

// ---------------- Panel 3: Phase (Period 3.15) ----------------
var p3 = makePanel(2);
var xPhase3 = d3.scaleLinear().domain([-0.05, 1.05]).range([axLeft, axRight]);
var yOC3 = d3.scaleLinear().domain([-31.0, 42.7]).range([p3.bottom, p3.top]);

drawBands(p3, xPhase3, yOC3, fit1Phase, fit1Folded, fit1Sigma, "red", 0.3, 0.1);
drawGrid(p3, xPhase3, yOC3, phaseTicks, ocTicks);
drawErrorbars(p3, xPhase3, yOC3, phaseData1);
drawAxes(p3, xPhase3, yOC3, phaseTicks, ocTicks, d3.format(".1f"), d3.format("d"));
drawSpines(p3);
drawLabels(p3, "Phase (Period: 3.15 epochs)", "O-C [min]", 130, 78);

drawLegend(p3, {x: 2064, y: 1818, w: 461, h: 202},
  [1856, 1919, 1980], 2079, 2163, 2198, [
    {type: "patch", color: "red", opacity: 0.3, label: "1-sigma region"},
    {type: "patch", color: "red", opacity: 0.1, label: "3-sigma region"},
    {type: "errorbar", label: "Data"}
  ]);

// ---------------- Panel 4: Residuals (Period 7.47) ----------------
var p4 = makePanel(3);
var xPhase4 = d3.scaleLinear().domain([-0.05, 1.05]).range([axLeft, axRight]);
var yRes4 = d3.scaleLinear().domain([-30.1, 43.1]).range([p4.bottom, p4.top]);

drawBands(p4, xPhase4, yRes4, fit2Phase, fit2Folded, fit2Sigma, "cyan", 0.4, 0.15);
drawGrid(p4, xPhase4, yRes4, phaseTicks, ocTicks);
drawErrorbars(p4, xPhase4, yRes4, phaseData2);
drawAxes(p4, xPhase4, yRes4, phaseTicks, ocTicks, d3.format(".1f"), d3.format("d"));
drawSpines(p4);
drawLabels(p4, "Phase (Period: 7.47 epochs)", "Residuals [min]", 130, 78);

drawLegend(p4, {x: 1987, y: 2663, w: 538, h: 200},
  [2699, 2761.5, 2824.6], 2002, 2088, 2121, [
    {type: "patch", color: "cyan", opacity: 0.4, label: "1-sigma region"},
    {type: "patch", color: "cyan", opacity: 0.15, label: "3-sigma region"},
    {type: "errorbar", label: "Data - Fourier Fit 1"}
  ]);
</script>
</body>
</html>
